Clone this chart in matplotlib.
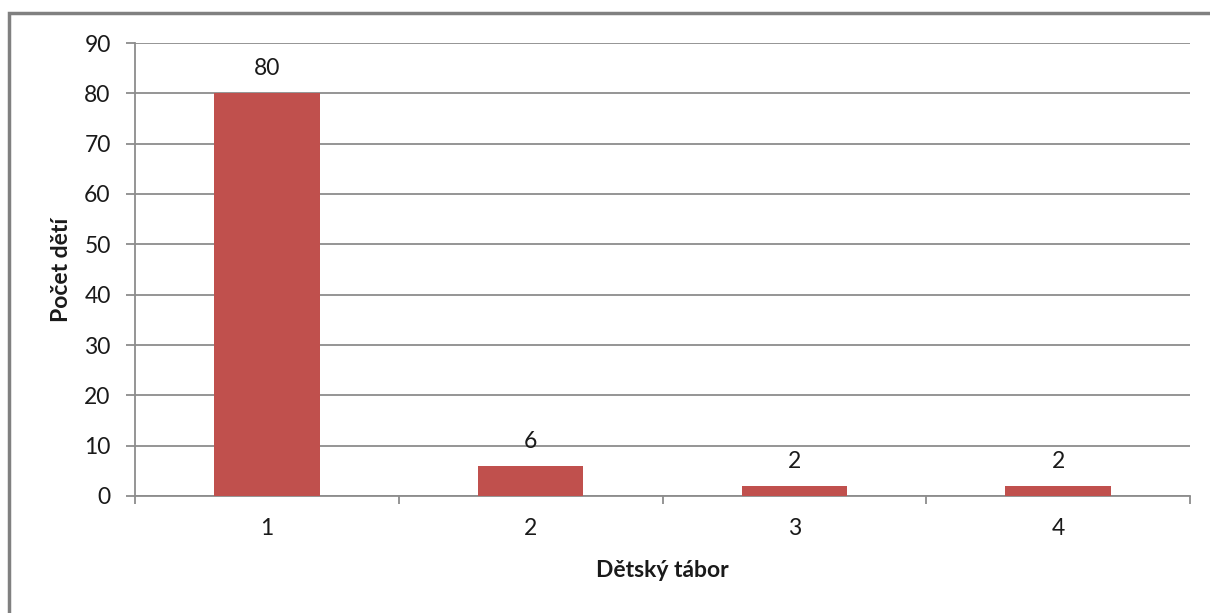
import matplotlib
matplotlib.use('Agg')

import matplotlib.pyplot as plt
from matplotlib.patches import Rectangle

# --- data ---
camps = [1, 2, 3, 4]
children = [80, 6, 2, 2]
y_ticks = list(range(0, 91, 10))

bar_color = '#C0504D'
grid_color = '#8C8C8C'
text_color = '#1A1A1A'

plt.rcParams['font.family'] = ['Lato', 'DejaVu Sans']
FS = 16.5

fig = plt.figure(figsize=(12.10, 6.13), dpi=100)
ax = fig.add_axes([135 / 1210, 1 - 496 / 613, 1055 / 1210, 453 / 613])

ax.bar(camps, children, width=0.4, color=bar_color, zorder=3)
for x, v in zip(camps, children):
    ax.annotate(str(v), (x, v), xytext=(0, 13), textcoords='offset points',
                ha='center', va='baseline', fontsize=FS, color=text_color)

ax.set_xlim(0.5, 4.5)
ax.set_ylim(0, 90)
ax.set_yticks(y_ticks)
ax.yaxis.grid(True, color=grid_color, linewidth=1.3, zorder=0)
ax.set_axisbelow(True)

# category labels centred, separators between categories
ax.set_xticks(camps)
ax.set_xticks([0.5, 1.5, 2.5, 3.5, 4.5], minor=True)
ax.tick_params(axis='x', which='major', length=0, pad=16, labelsize=FS,
               labelcolor=text_color)
ax.tick_params(axis='x', which='minor', length=6, width=1.3, color=grid_color,
               direction='out')
ax.tick_params(axis='y', length=6.5, width=1.3, color=grid_color, pad=11,
               labelsize=FS, labelcolor=text_color)

for side in ('top', 'right'):
    ax.spines[side].set_visible(False)
for side in ('left', 'bottom'):
    ax.spines[side].set_color(grid_color)
    ax.spines[side].set_linewidth(1.3)

ax.set_xlabel('Dětský tábor', fontsize=FS, fontweight='bold', color=text_color,
              labelpad=15)
ax.set_ylabel('Počet dětí', fontsize=FS, fontweight='bold', color=text_color,
              labelpad=9)

# chart frame
fig.patches.append(Rectangle((9 / 1210, -0.1), 1.2, 1 - 13 / 613 + 0.1,
                             transform=fig.transFigure, fill=False,
                             edgecolor='#808080', linewidth=2.5))

fig.savefig('out.png', dpi=100)
